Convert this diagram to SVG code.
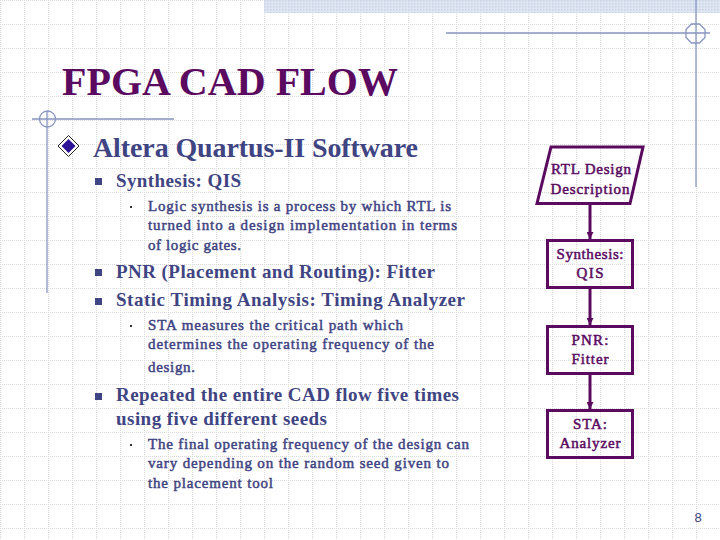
<svg xmlns="http://www.w3.org/2000/svg" width="720" height="540" viewBox="0 0 720 540">
<defs>
<pattern id="grid" width="24" height="24" patternUnits="userSpaceOnUse">
<path d="M0 0.5H24M0.5 0V24" stroke="#dadada" stroke-width="1" stroke-dasharray="1 1" fill="none"/>
</pattern>
<pattern id="band" width="3" height="3" patternUnits="userSpaceOnUse">
<rect width="3" height="3" fill="#dfe6f2"/>
<rect width="1.5" height="1.5" fill="#c6d2e6"/>
</pattern>
<marker id="arrow" markerWidth="8" markerHeight="7" refX="7" refY="3.5" orient="auto" markerUnits="userSpaceOnUse">
<path d="M0 0L7 3.5L0 7Z" fill="#5a0a5f"/>
</marker>
</defs>
<style>
text{font-family:"Liberation Serif","Times New Roman",serif}
.title{font-size:40px;font-weight:700;fill:#5a0a5f}
.h1{font-size:28px;font-weight:700;fill:#3f4482}
.h2{font-size:19px;font-weight:700;fill:#3f4482}
.h3{font-size:15px;fill:#3f4482;stroke:#3f4482;stroke-width:.5px}
.nb{font-size:15px;fill:#5a0a5f;stroke:#5a0a5f;stroke-width:.5px;text-anchor:middle}
.box{fill:none;stroke:#5a0a5f;stroke-width:3}
.conn{stroke:#5a0a5f;stroke-width:3;fill:none}
.deco{stroke:#8795c0;stroke-width:1.3;fill:none}
.sq{fill:#3f4482}
</style>
<rect width="720" height="540" fill="#fff"/>
<rect width="720" height="540" fill="url(#grid)"/>
<rect x="264" y="0" width="456" height="13" fill="url(#band)"/>
<g id="decoration">
<path class="deco" d="M446 33H710M696 0V187"/>
<path class="deco" d="M691.500 24h8l5.500 5.500v8l-5.500 5.500h-8l-5.500-5.500v-8z"/>
<path class="deco" d="M32 119H174M47 111V293"/>
<circle class="deco" cx="47.500" cy="119" r="8"/>
</g>
<text class="title" x="62" y="95" textLength="336">FPGA CAD FLOW</text>
<g id="bullets">
<path d="M68.500 135.500L79 146L68.500 156.500L58 146Z" fill="#fff" stroke="#222" stroke-width="1"/>
<path d="M68.500 139L75.500 146L68.500 153L61.500 146Z" fill="#2d1496"/>
<rect class="sq" x="95" y="178" width="7" height="7"/>
<rect class="sq" x="95" y="269" width="7" height="7"/>
<rect class="sq" x="95" y="298" width="7" height="7"/>
<rect class="sq" x="95" y="393" width="7" height="7"/>
<rect x="130" y="206" width="2" height="2" fill="#333"/>
<rect x="130" y="325" width="2" height="2" fill="#333"/>
<rect x="130" y="444" width="2" height="2" fill="#333"/>
</g>
<g id="outline">
<text class="h1" x="93" y="157" textLength="325">Altera Quartus-II Software</text>
<text class="h2" x="116" y="187" textLength="125">Synthesis: QIS</text>
<text class="h3" x="148" y="211" textLength="303">Logic synthesis is a process by which RTL is</text>
<text class="h3" x="148" y="230" textLength="309">turned into a design implementation in terms</text>
<text class="h3" x="148" y="250" textLength="93">of logic gates.</text>
<text class="h2" x="116" y="278" textLength="319">PNR (Placement and Routing): Fitter</text>
<text class="h2" x="116" y="306" textLength="349">Static Timing Analysis: Timing Analyzer</text>
<text class="h3" x="148" y="330" textLength="255">STA measures the critical path which</text>
<text class="h3" x="148" y="349" textLength="286">determines the operating frequency of the</text>
<text class="h3" x="148" y="372" textLength="47">design.</text>
<text class="h2" x="116" y="401" textLength="343">Repeated the entire CAD flow five times</text>
<text class="h2" x="116" y="425" textLength="211">using five different seeds</text>
<text class="h3" x="148" y="449" textLength="321">The final operating frequency of the design can</text>
<text class="h3" x="148" y="468" textLength="301">vary depending on the random seed given to</text>
<text class="h3" x="148" y="488" textLength="125">the placement tool</text>
</g>
<g id="connectors">
<path class="conn" d="M590 204V239" marker-end="url(#arrow)"/>
<path class="conn" d="M590 288V325" marker-end="url(#arrow)"/>
<path class="conn" d="M590 374V409" marker-end="url(#arrow)"/>
</g>
<g id="node-rtl">
<path class="box" d="M551 147H643L630 203.500H537Z"/>
<text class="nb" x="591" y="174" textLength="80">RTL Design</text>
<text class="nb" x="590" y="194" textLength="79">Description</text>
</g>
<g id="node-synthesis">
<rect class="box" x="547.500" y="240.500" width="85" height="47"/>
<text class="nb" x="590" y="259" textLength="67">Synthesis:</text>
<text class="nb" x="590" y="278" textLength="27">QIS</text>
</g>
<g id="node-pnr">
<rect class="box" x="547.500" y="326.500" width="85" height="47"/>
<text class="nb" x="590" y="345" textLength="37">PNR:</text>
<text class="nb" x="590" y="364" textLength="37">Fitter</text>
</g>
<g id="node-sta">
<rect class="box" x="547.500" y="410.500" width="85" height="47"/>
<text class="nb" x="590" y="429" textLength="34">STA:</text>
<text class="nb" x="590" y="448" textLength="61">Analyzer</text>
</g>
<text x="698" y="522" font-size="13" style="font-family:'Liberation Sans',sans-serif" fill="#3f4482" text-anchor="middle">8</text>
</svg>
